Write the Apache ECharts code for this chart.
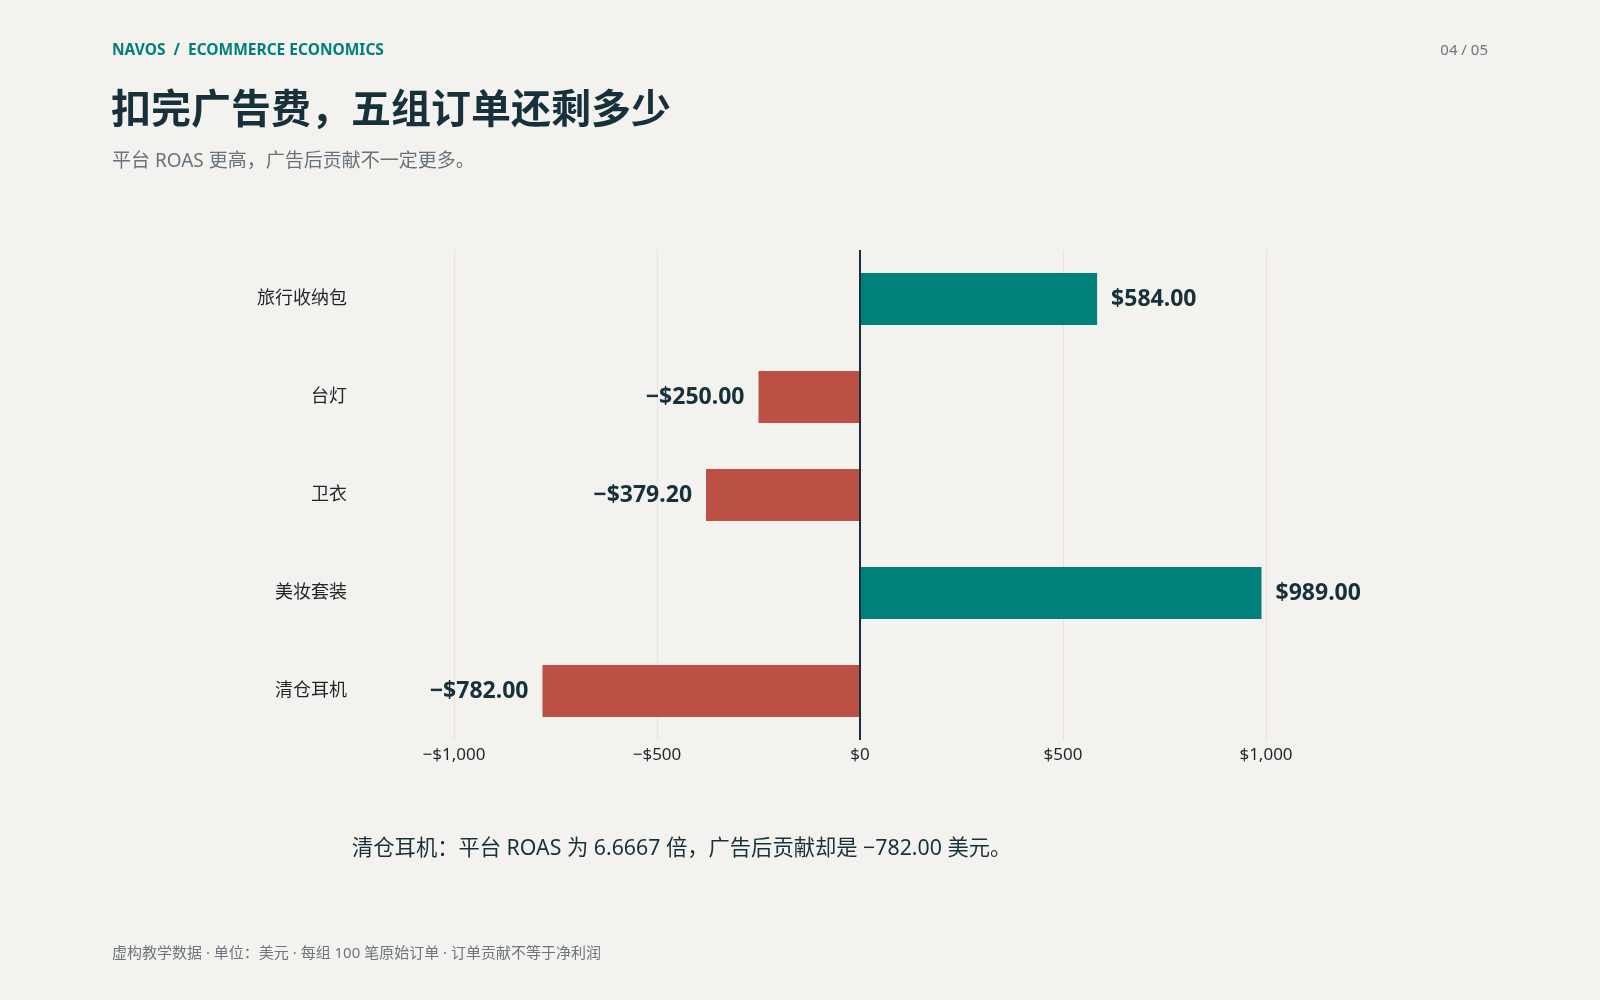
<!DOCTYPE html>
<html lang="zh-CN">
<head>
    <meta charset="UTF-8">
    <title>扣完广告费，五组订单还剩多少</title>
    <script src="https://cdn.jsdelivr.net/npm/echarts@6.0.0/dist/echarts.min.js"></script>
    <style>
        html, body {
            margin: 0;
            padding: 0;
            background: #f4f2ee;
        }
        #chart {
            width: 1600px;
            height: 1000px;
        }
    </style>
</head>
<body>
    <div id="chart"></div>
    <script>
        // 数据：广告后每组订单贡献（美元）
        var categories = ['旅行收纳包', '台灯', '卫衣', '美妆套装', '清仓耳机'];
        var contribution = [584.00, -250.00, -379.20, 989.00, -782.00];
        var axisTicks = [-1000, -500, 0, 500, 1000];

        var TEAL = '#00807a';
        var RED = '#bb5044';
        var INK = '#17313b';
        var FONT = '"Noto Sans", "Noto Sans CJK SC", sans-serif';

        function money(v, digits) {
            var s = Math.abs(v).toLocaleString('en-US', {
                minimumFractionDigits: digits,
                maximumFractionDigits: digits
            });
            return (v < 0 ? '\u2212$' : '$') + s;
        }

        var chart = echarts.init(document.getElementById('chart'));

        var option = {
            backgroundColor: '#f4f2ee',
            textStyle: { fontFamily: FONT },
            grid: {
                left: 454,
                right: 334,
                top: 250,
                height: 490
            },
            xAxis: {
                type: 'value',
                min: axisTicks[0],
                max: axisTicks[axisTicks.length - 1],
                interval: 500,
                axisLine: { show: false },
                axisTick: { show: false },
                axisLabel: {
                    margin: 7,
                    fontSize: 17,
                    color: '#1d262b',
                    formatter: function (v) { return money(v, 0); }
                },
                splitLine: {
                    lineStyle: { color: '#e6e3de', width: 1 }
                }
            },
            yAxis: {
                type: 'category',
                inverse: true,
                data: categories,
                axisLine: { show: false },
                axisTick: { show: false },
                axisLabel: {
                    margin: 107,
                    fontSize: 18,
                    color: '#1d262b',
                    padding: [5, 0, 0, 0]
                }
            },
            series: [{
                type: 'bar',
                barWidth: 52,
                data: contribution.map(function (v) {
                    return {
                        value: v,
                        itemStyle: { color: v < 0 ? RED : TEAL },
                        label: { position: v < 0 ? 'left' : 'right' }
                    };
                }),
                label: {
                    show: true,
                    distance: 14,
                    fontSize: 23,
                    fontWeight: 'bold',
                    color: INK,
                    formatter: function (p) { return money(p.value, 2); }
                },
                markLine: {
                    silent: true,
                    symbol: 'none',
                    label: { show: false },
                    lineStyle: { color: INK, width: 2, type: 'solid' },
                    data: [{ xAxis: 0 }]
                }
            }],
            graphic: [
                {
                    type: 'text', left: 112, top: 43,
                    style: {
                        text: 'NAVOS  /  ECOMMERCE ECONOMICS',
                        fontSize: 15.5, fontWeight: 'bold', fill: TEAL, fontFamily: FONT
                    }
                },
                {
                    type: 'text', right: 112, top: 43,
                    style: {
                        text: '04 / 05',
                        fontSize: 15, fill: '#6b777d', fontFamily: FONT
                    }
                },
                {
                    type: 'text', left: 111, top: 92,
                    style: {
                        text: '扣完广告费，五组订单还剩多少',
                        fontSize: 40, fontWeight: 'bold', fill: INK, fontFamily: FONT
                    }
                },
                {
                    type: 'text', left: 112, top: 152,
                    style: {
                        text: '平台 ROAS 更高，广告后贡献不一定更多。',
                        fontSize: 19, fill: '#66737a', fontFamily: FONT
                    }
                },
                {
                    type: 'text', left: 352, top: 838,
                    style: {
                        text: '清仓耳机：平台 ROAS 为 6.6667 倍，广告后贡献却是 \u2212782.00 美元。',
                        fontSize: 21.3, fill: INK, fontFamily: FONT
                    }
                },
                {
                    type: 'text', left: 112, top: 946,
                    style: {
                        text: '虚构教学数据 · 单位：美元 · 每组 100 笔原始订单 · 订单贡献不等于净利润',
                        fontSize: 15, fill: '#6b777d', fontFamily: FONT
                    }
                }
            ]
        };

        chart.setOption(option);
    </script>
</body>
</html>
